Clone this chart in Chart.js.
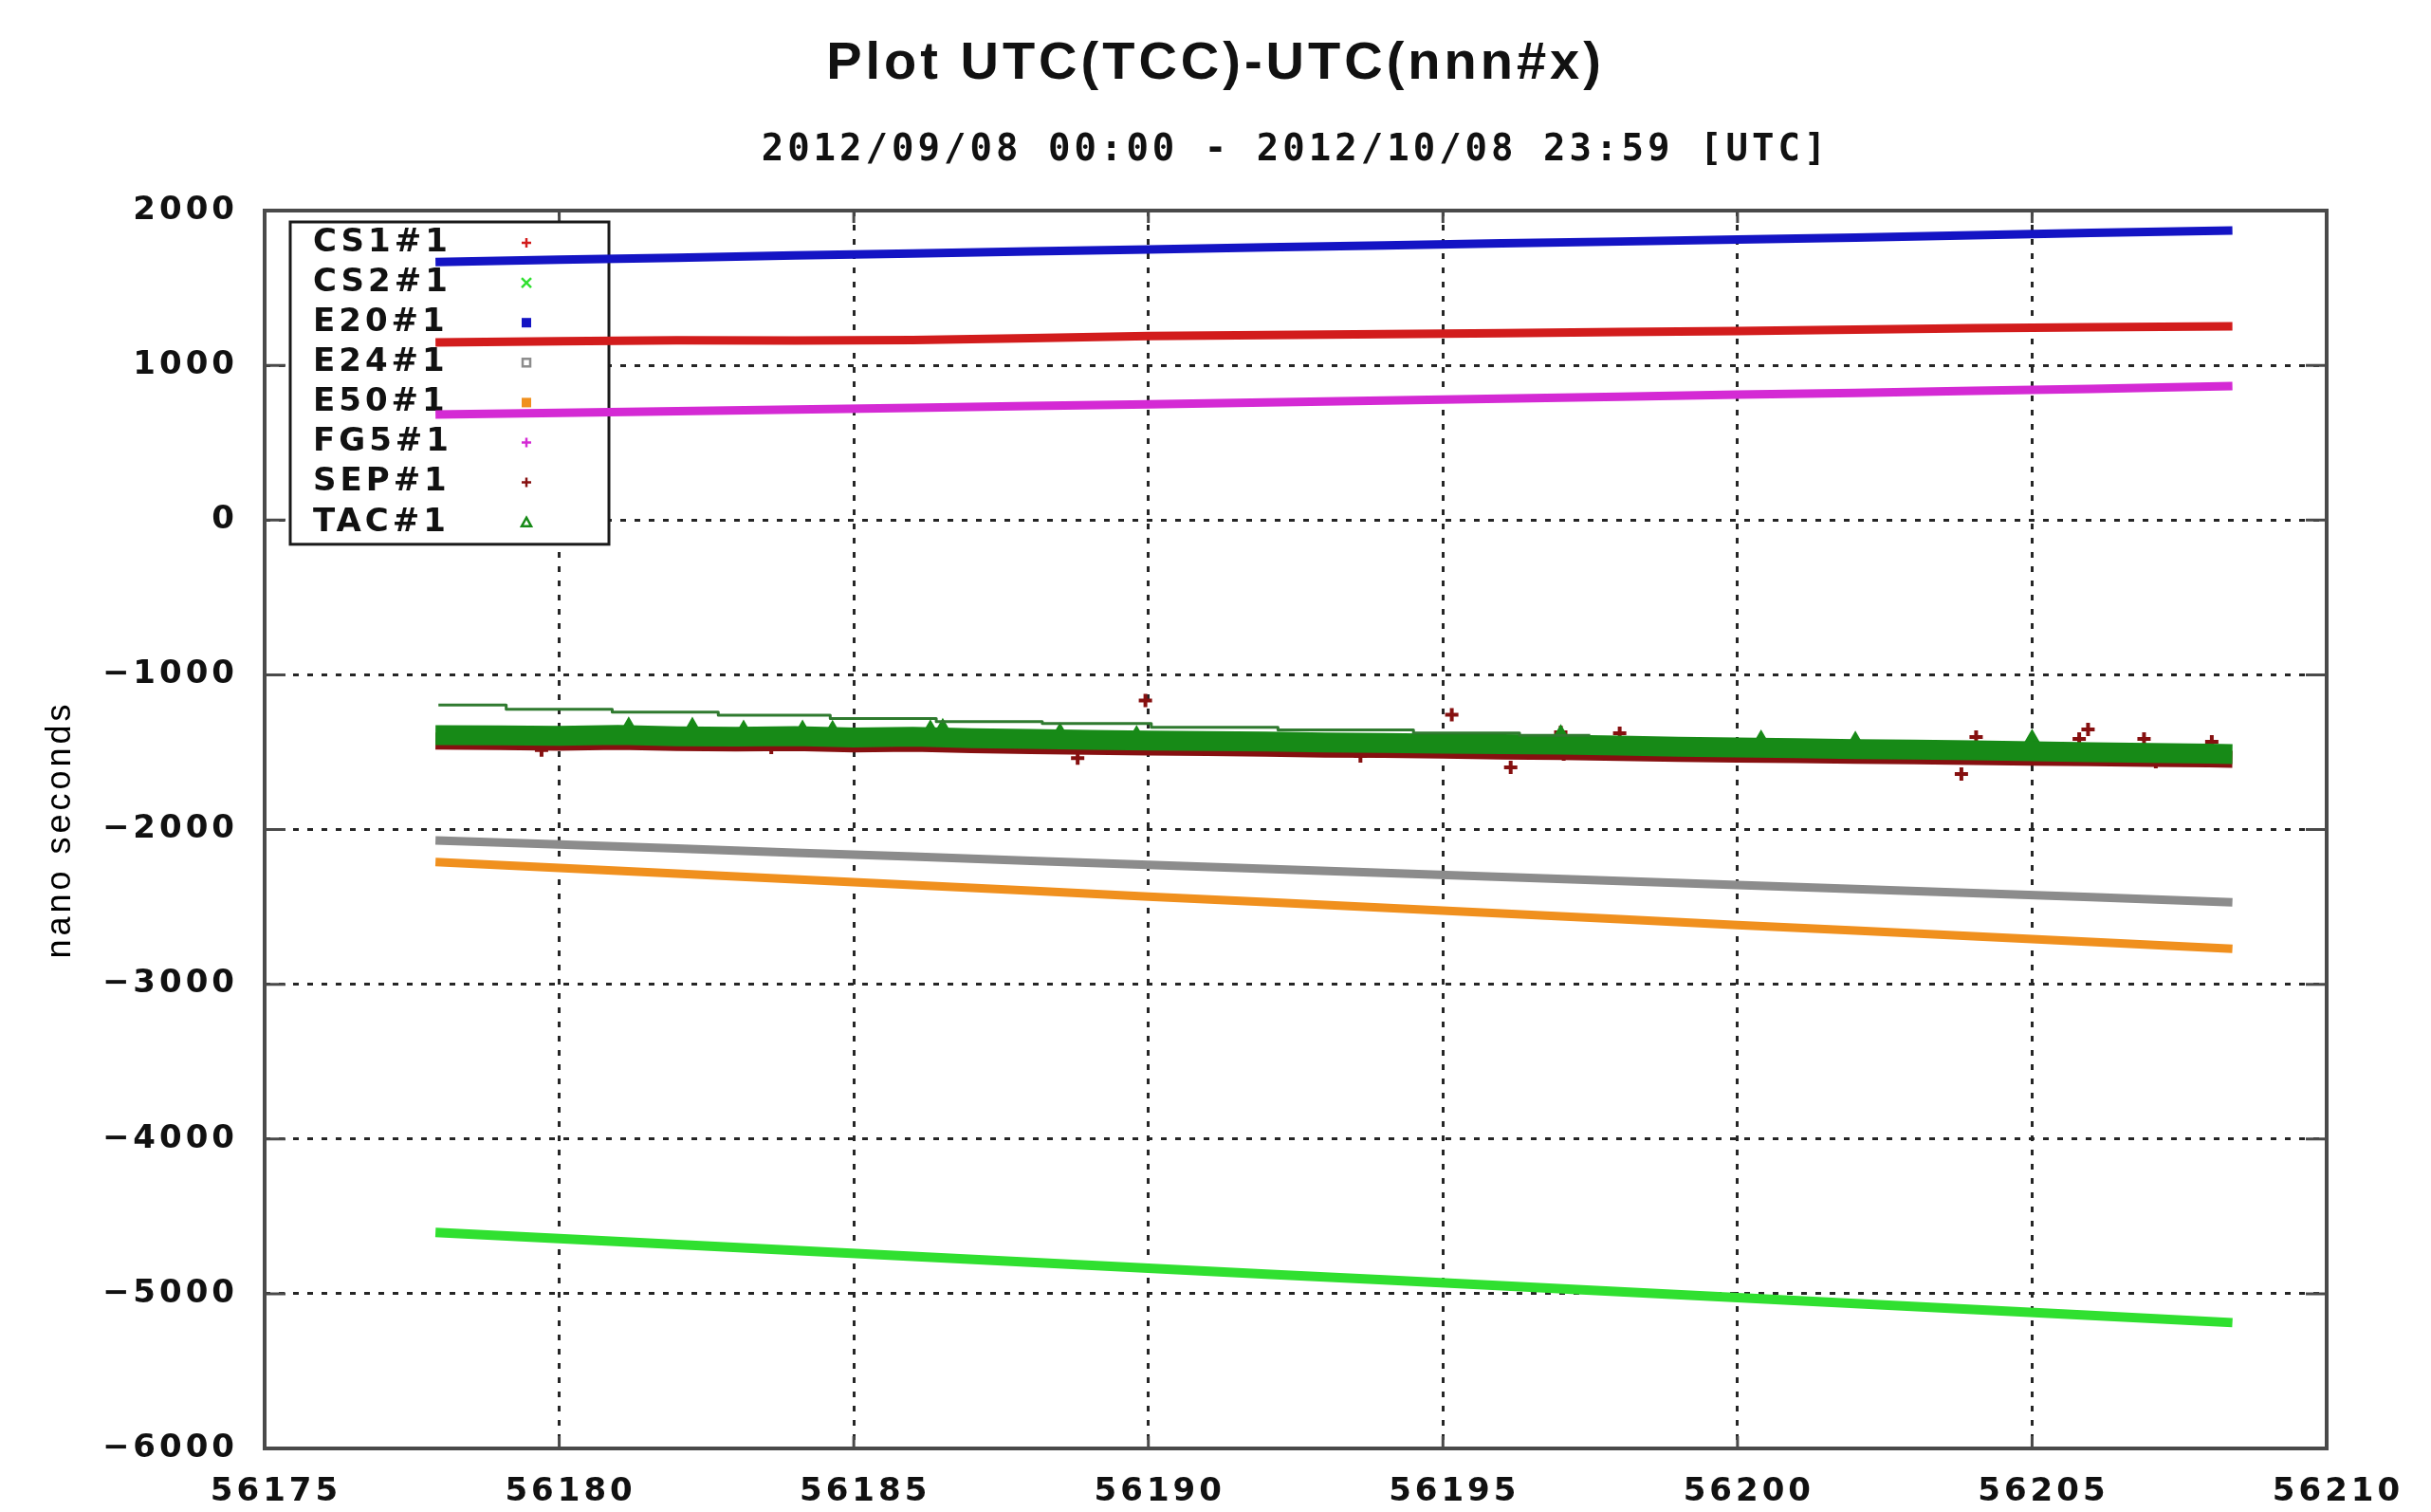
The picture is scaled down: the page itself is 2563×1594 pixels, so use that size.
<!DOCTYPE html>
<html>
<head>
<meta charset="utf-8">
<title>Plot UTC(TCC)-UTC(nnn#x)</title>
<script src="https://cdn.jsdelivr.net/npm/chart.js@4.4.1/dist/chart.umd.min.js"></script>
<style>
  html, body { margin: 0; padding: 0; background: #fff; }
  #wrap { width: 2563px; height: 1594px; }
</style>
</head>
<body>
<div id="wrap"><canvas id="utcChart" width="2563" height="1594"></canvas></div>
<script>
// MJD of the samples used for the smooth clock traces
const lineDays = [56177.9, 56180, 56182, 56184, 56186, 56188, 56190, 56192, 56194, 56196, 56198, 56200, 56202, 56204, 56206, 56208.4];
// values in ns
const cs1Values = [1148, 1155, 1162, 1160, 1163, 1175, 1189, 1195, 1201, 1208, 1215, 1222, 1230, 1240, 1246, 1252];
const cs2Values = [-4604, -4644, -4682, -4720, -4758, -4797, -4835, -4873, -4911, -4949, -4987, -5025, -5063, -5102, -5140, -5187];
const e20Values = [1668, 1683, 1695, 1710, 1722, 1736, 1749, 1762, 1775, 1788, 1800, 1813, 1826, 1841, 1856, 1871];
const e24Values = [-2070, -2097, -2122, -2150, -2175, -2202, -2228, -2254, -2280, -2306, -2332, -2358, -2385, -2411, -2437, -2471];
const e50Values = [-2210, -2249, -2285, -2322, -2359, -2396, -2433, -2469, -2506, -2543, -2580, -2617, -2653, -2690, -2727, -2771];
const fg5Values = [682, 692, 703, 714, 725, 737, 748, 760, 772, 784, 797, 810, 822, 835, 848, 866];

// the noisy SEP / TAC clouds, daily
const cloudDays = [56177.9, 56179, 56180, 56181, 56182, 56183, 56184, 56185, 56186, 56187, 56188, 56189, 56190, 56191, 56192, 56193,
                   56194, 56195, 56196, 56197, 56198, 56199, 56200, 56201, 56202, 56203, 56204, 56205, 56206, 56207, 56208, 56208.4];
const tacValues = [-1390, -1392, -1395, -1388, -1398, -1400, -1396, -1405, -1400, -1410, -1415, -1420, -1425, -1428, -1432, -1438,
                   -1440, -1445, -1448, -1452, -1458, -1465, -1470, -1475, -1480, -1484, -1488, -1495, -1500, -1505, -1510, -1512];
const sepValues = [-1428, -1432, -1436, -1430, -1438, -1440, -1438, -1446, -1442, -1452, -1458, -1462, -1466, -1470, -1474, -1480,
                   -1482, -1487, -1492, -1496, -1502, -1508, -1512, -1516, -1520, -1524, -1528, -1532, -1536, -1540, -1544, -1546];

// stray SEP / TAC points sticking out of the clouds
const sepOutDays = [56179.7, 56183.6, 56188.8, 56189.95, 56193.6, 56195.15, 56196.15, 56197.0, 56197.05, 56198.0, 56203.8, 56204.05, 56205.8, 56205.95, 56206.9, 56207.1, 56208.05];
const sepOutValues = [-1486, -1470, -1538, -1166, -1525, -1258, -1598, -1372, -1513, -1378, -1642, -1403, -1415, -1354, -1415, -1562, -1433];
const tacOutDays = [56181.18, 56182.26, 56183.13, 56184.13, 56184.64, 56186.3, 56186.51, 56188.5, 56189.8, 56197.0, 56200.4, 56202.0, 56205.0];
const tacOutValues = [-1330, -1332, -1350, -1350, -1352, -1348, -1340, -1368, -1385, -1380, -1415, -1422, -1410];

// thin stepped TAC trace above the cloud
const tacStepDays = [56177.95, 56179.1, 56180.9, 56182.7, 56184.6, 56186.4, 56188.2, 56190.05, 56192.2, 56194.5, 56196.3, 56197.5];
const tacStepValues = [-1196, -1223, -1241, -1262, -1282, -1303, -1315, -1340, -1356, -1376, -1392, -1392];

const xTicksMin = 56175, xTicksMax = 56210, xStep = 5;
const yTicksMin = -6000, yTicksMax = 2000, yStep = 1000;

const SANS = 'DejaVu Sans';
const MONO = 'DejaVu Sans Mono';
const INK = '#111111';
const FRAME = '#4a4a4a';
const GRID = '#262626';

function pts(days, vals) {
  return days.map((d, i) => ({ x: d, y: vals[i] }));
}

function trace(label, days, vals, color, key, extra) {
  return Object.assign({
    label: label,
    data: pts(days, vals),
    borderColor: color,
    backgroundColor: color,
    showLine: true,
    borderWidth: 9,
    borderCapStyle: 'butt',
    borderJoinStyle: 'round',
    pointRadius: 0,
    key: key
  }, extra || {});
}

const datasets = [
  trace('CS1#1', lineDays, cs1Values, '#d21c1c', 'cross'),
  trace('CS2#1', lineDays, cs2Values, '#30e030', 'crossRot', { borderWidth: 10 }),
  trace('E20#1', lineDays, e20Values, '#1414c4', 'rect'),
  trace('E24#1', lineDays, e24Values, '#8c8c8c', 'rectHollow'),
  trace('E50#1', lineDays, e50Values, '#f0901e', 'rect'),
  trace('FG5#1', lineDays, fg5Values, '#d42ad4', 'cross'),
  trace('SEP#1', cloudDays, sepValues, '#861010', 'cross', { borderWidth: 18, order: -1 }),
  trace('TAC#1', cloudDays, tacValues, '#178a17', 'triangle', { borderWidth: 21, order: -2 }),
  {
    label: 'SEP#1 stray', data: pts(sepOutDays, sepOutValues), showLine: false, order: -1,
    pointStyle: 'cross', pointRadius: 7, pointBorderWidth: 4, borderColor: '#861010', backgroundColor: '#861010'
  },
  {
    label: 'TAC#1 stray', data: pts(tacOutDays, tacOutValues), showLine: false, order: -2,
    pointStyle: 'triangle', pointRadius: 6, pointBorderWidth: 4, borderColor: '#178a17', backgroundColor: '#178a17'
  },
  trace('TAC#1 step', tacStepDays, tacStepValues, '#2f7a2f', null, { borderWidth: 3, stepped: true, order: -3 })
];

function keyMark(ctx, style, color, x, y) {
  const r = 5;
  ctx.strokeStyle = color;
  ctx.fillStyle = color;
  ctx.lineWidth = 2.5;
  ctx.beginPath();
  if (style === 'cross') {
    ctx.moveTo(x - r, y); ctx.lineTo(x + r, y);
    ctx.moveTo(x, y - r); ctx.lineTo(x, y + r);
    ctx.stroke();
  } else if (style === 'crossRot') {
    ctx.moveTo(x - r, y - r); ctx.lineTo(x + r, y + r);
    ctx.moveTo(x - r, y + r); ctx.lineTo(x + r, y - r);
    ctx.stroke();
  } else if (style === 'rect') {
    ctx.fillRect(x - r, y - r, 2 * r, 2 * r);
  } else if (style === 'rectHollow') {
    ctx.strokeRect(x - r + 1, y - r + 1, 2 * r - 2, 2 * r - 2);
  } else if (style === 'triangle') {
    ctx.moveTo(x, y - r); ctx.lineTo(x + r, y + r - 1); ctx.lineTo(x - r, y + r - 1); ctx.closePath();
    ctx.stroke();
  }
}

// gnuplot style: wide pixel font, inward tics, closed border and an opaque key under the data
const gnuplotFrame = {
  id: 'gnuplotFrame',
  beforeLayout(chart) { chart.ctx.letterSpacing = '4px'; },
  beforeDraw(chart) { chart.ctx.letterSpacing = '4px'; },
  beforeDatasetsDraw(chart) {
    const { ctx, chartArea: a, scales: { x, y, y2 } } = chart;
    ctx.save();
    ctx.setLineDash([]);
    ctx.strokeStyle = FRAME;
    ctx.lineWidth = 3;
    ctx.beginPath();
    y.ticks.forEach(t => {
      const py = y.getPixelForValue(t.value);
      ctx.moveTo(a.left, py); ctx.lineTo(a.left + 22, py);
    });
    y2.ticks.forEach(t => {
      const py = y2.getPixelForValue(t.value);
      ctx.moveTo(a.right, py); ctx.lineTo(a.right - 22, py);
    });
    x.ticks.forEach(t => {
      const px = x.getPixelForValue(t.value);
      ctx.moveTo(px, a.bottom); ctx.lineTo(px, a.bottom - 13);
      ctx.moveTo(px, a.top); ctx.lineTo(px, a.top + 13);
    });
    ctx.stroke();
    ctx.lineWidth = 4;
    ctx.strokeRect(a.left, a.top, a.right - a.left, a.bottom - a.top);

    // key
    const keyed = chart.data.datasets.filter(d => d.key);
    const bx = a.left + 27, by = a.top + 12, bw = 336, rowH = 42.1;
    const bh = rowH * keyed.length + 3;
    ctx.fillStyle = '#ffffff';
    ctx.fillRect(bx, by, bw, bh);
    ctx.strokeStyle = '#1a1a1a';
    ctx.lineWidth = 3;
    ctx.strokeRect(bx, by, bw, bh);
    ctx.font = 'bold 34px "' + SANS + '"';
    ctx.textAlign = 'left';
    ctx.textBaseline = 'middle';
    keyed.forEach((d, i) => {
      const ry = by + 22 + i * rowH;
      ctx.fillStyle = INK;
      ctx.fillText(d.label, bx + 24, ry);
      keyMark(ctx, d.key, d.borderColor, bx + 249, ry);
    });
    ctx.restore();
  }
};

const tickFont = { family: SANS, size: 34, weight: 'bold', lineHeight: 1 };
const gridOpts = { color: GRID, lineWidth: 3, drawTicks: false };
const borderOpts = { display: false, dash: [6, 9] };

new Chart(document.getElementById('utcChart'), {
  type: 'scatter',
  data: { datasets: datasets },
  options: {
    responsive: false,
    animation: false,
    events: [],
    layout: { padding: 0 },
    plugins: {
      legend: { display: false },
      tooltip: { enabled: false },
      title: {
        display: true,
        text: 'Plot UTC(TCC)-UTC(nnn#x)',
        color: INK,
        font: { family: 'Liberation Sans', size: 56, weight: 'bold', lineHeight: 1 },
        padding: { top: 40, bottom: 0 }
      },
      subtitle: {
        display: true,
        fullSize: false,
        text: '2012/09/08 00:00 - 2012/10/08 23:59 [UTC]',
        color: INK,
        font: { family: MONO, size: 39, weight: 'bold', lineHeight: 1 },
        padding: { top: 43, bottom: 44 }
      }
    },
    scales: {
      x: {
        type: 'linear',
        min: xTicksMin,
        max: xTicksMax,
        afterFit: s => { s.height = 67; },
        ticks: {
          stepSize: xStep, autoSkip: false, maxRotation: 0,
          padding: 29, labelOffset: 12, color: INK, font: tickFont,
          callback: v => String(v)
        },
        grid: gridOpts,
        border: borderOpts
      },
      y: {
        min: yTicksMin,
        max: yTicksMax,
        afterFit: s => { s.width = 279; },
        ticks: {
          stepSize: yStep, padding: 28, color: INK, font: tickFont,
          callback: v => (v < 0 ? '\u2212' + Math.abs(v) : String(v))
        },
        title: {
          display: true,
          text: 'nano seconds',
          color: '#000',
          font: { family: 'Liberation Sans', size: 36 },
          padding: { top: 42, bottom: 0 }
        },
        grid: gridOpts,
        border: borderOpts
      },
      // mirrored right axis: only carries the inward tics, no labels
      y2: {
        position: 'right',
        min: yTicksMin,
        max: yTicksMax,
        afterFit: s => { s.width = 110; },
        ticks: { stepSize: yStep, display: false },
        grid: { display: false, drawTicks: false },
        border: { display: false }
      }
    }
  },
  plugins: [gnuplotFrame]
});
</script>
</body>
</html>
